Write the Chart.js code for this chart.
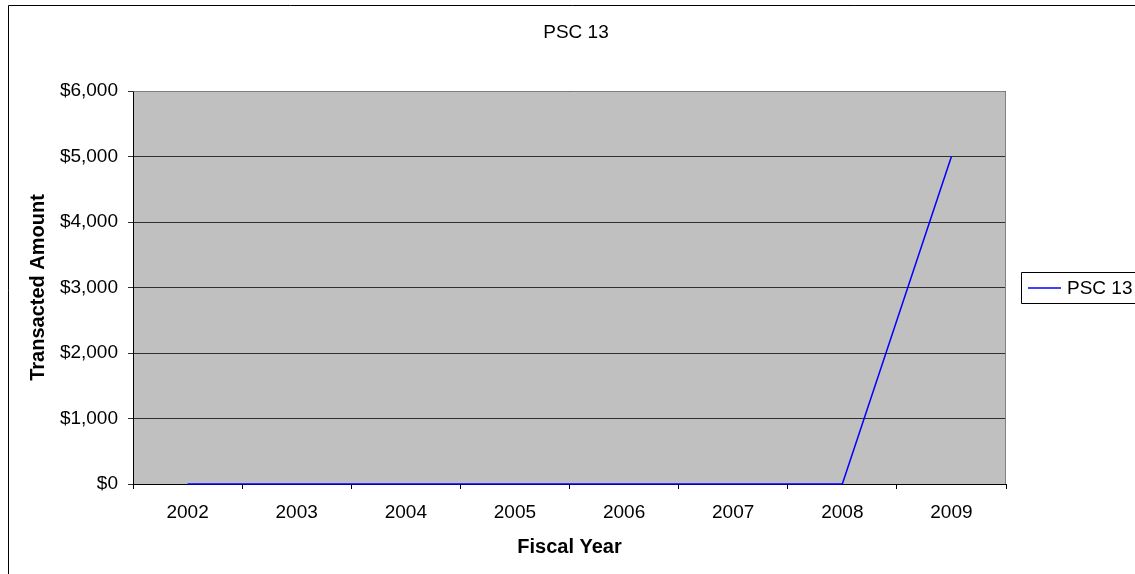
<!DOCTYPE html>
<html>
<head>
<meta charset="utf-8">
<script src="https://cdn.jsdelivr.net/npm/chart.js@4/dist/chart.umd.min.js"></script>
<style>
  html, body { margin: 0; padding: 0; background: #fff; overflow: hidden; }
  #wrap { position: absolute; left: 0; top: 0; width: 1135px; height: 574px; }
</style>
</head>
<body>
<div id="wrap"><canvas id="c" width="1135" height="574"></canvas></div>
<script>
const chartTitle = 'PSC 13';
const seriesName = 'PSC 13';
const categories = ['2002', '2003', '2004', '2005', '2006', '2007', '2008', '2009'];
const amounts = [0, 0, 0, 0, 0, 0, 0, 5000];
const yMin = 0;
const yMax = 6000;
const yStep = 1000;
const xTitle = 'Fiscal Year';
const yTitle = 'Transacted Amount';

const FONT = "'Liberation Sans', Arial, Helvetica, sans-serif";

const framePlugin = {
  id: 'frame',
  beforeDraw(chart) {
    const ctx = chart.ctx;
    const a = chart.chartArea;
    ctx.save();
    ctx.fillStyle = '#ffffff';
    ctx.fillRect(0, 0, chart.width, chart.height);
    // outer chart frame
    ctx.strokeStyle = '#000000';
    ctx.lineWidth = 1;
    ctx.beginPath();
    ctx.moveTo(8.5, chart.height + 5);
    ctx.lineTo(8.5, 5.5);
    ctx.lineTo(chart.width + 5, 5.5);
    ctx.stroke();
    // plot area
    ctx.fillStyle = '#C0C0C0';
    ctx.fillRect(a.left, a.top, a.right - a.left, a.bottom - a.top);
    // chart title
    ctx.fillStyle = '#000000';
    ctx.font = '19px ' + FONT;
    ctx.textAlign = 'center';
    ctx.textBaseline = 'middle';
    ctx.fillText(chart.options.plugins.frame.title, 576, 33);
    ctx.restore();
  },
  afterDraw(chart) {
    const ctx = chart.ctx;
    const a = chart.chartArea;
    ctx.save();
    ctx.strokeStyle = '#808080';
    ctx.lineWidth = 1;
    ctx.beginPath();
    ctx.moveTo(Math.round(a.left) + 0.5, Math.round(a.top) + 0.5);
    ctx.lineTo(Math.round(a.right) - 0.5, Math.round(a.top) + 0.5);
    ctx.lineTo(Math.round(a.right) - 0.5, Math.round(a.bottom));
    ctx.stroke();
    // legend
    const ds = chart.data.datasets[0];
    const bx = 1021.5, by = 272.5, bh = 31;
    ctx.strokeStyle = '#000000';
    ctx.fillStyle = '#ffffff';
    ctx.beginPath();
    ctx.rect(bx, by, chart.width + 10 - bx, bh);
    ctx.fill();
    ctx.stroke();
    const cy = by + bh / 2;
    ctx.strokeStyle = ds.borderColor;
    ctx.lineWidth = ds.borderWidth;
    ctx.beginPath();
    ctx.moveTo(1028, cy);
    ctx.lineTo(1061, cy);
    ctx.stroke();
    ctx.fillStyle = '#000000';
    ctx.font = '19px ' + FONT;
    ctx.textBaseline = 'middle';
    ctx.textAlign = 'left';
    ctx.fillText(ds.label, 1067, cy + 1);
    ctx.restore();
  }
};

new Chart(document.getElementById('c'), {
  type: 'line',
  data: {
    labels: categories,
    datasets: [{
      label: seriesName,
      data: amounts,
      borderColor: '#0000FF',
      backgroundColor: '#0000FF',
      borderWidth: 1.5,
      pointRadius: 0,
      pointHoverRadius: 0,
      tension: 0,
      fill: false,
      clip: false
    }]
  },
  options: {
    responsive: false,
    animation: false,
    devicePixelRatio: 1,
    events: [],
    layout: { padding: { left: 0, right: 129, top: 91, bottom: 0 } },
    plugins: {
      legend: { display: false },
      tooltip: { enabled: false },
      title: { display: false },
      frame: { title: chartTitle }
    },
    scales: {
      x: {
        type: 'category',
        offset: true,
        grid: {
          display: true,
          offset: true,
          drawOnChartArea: false,
          drawTicks: true,
          tickLength: 5,
          color: '#000000'
        },
        border: { display: true, color: '#000000', width: 1 },
        ticks: {
          color: '#000000',
          font: { family: FONT, size: 19 },
          padding: 12,
          maxRotation: 0,
          autoSkip: false
        },
        title: {
          display: true,
          text: xTitle,
          color: '#000000',
          font: { family: FONT, size: 20, weight: 'bold', lineHeight: 1.2 },
          padding: { top: 0, bottom: 15 }
        },
        afterFit(scale) { scale.height = 90; }
      },
      y: {
        min: yMin,
        max: yMax,
        grid: {
          display: true,
          drawOnChartArea: true,
          drawTicks: true,
          tickLength: 5,
          color: '#303030'
        },
        border: { display: true, color: '#000000', width: 1 },
        ticks: {
          stepSize: yStep,
          color: '#000000',
          font: { family: FONT, size: 19 },
          padding: 10,
          callback(v) { return '$' + Number(v).toLocaleString('en-US'); }
        },
        title: {
          display: true,
          text: yTitle,
          color: '#000000',
          font: { family: FONT, size: 20, weight: 'bold', lineHeight: 1.2 },
          padding: { top: 26, bottom: 0 }
        },
        afterFit(scale) { scale.width = 133; }
      }
    }
  },
  plugins: [framePlugin]
});
</script>
</body>
</html>
